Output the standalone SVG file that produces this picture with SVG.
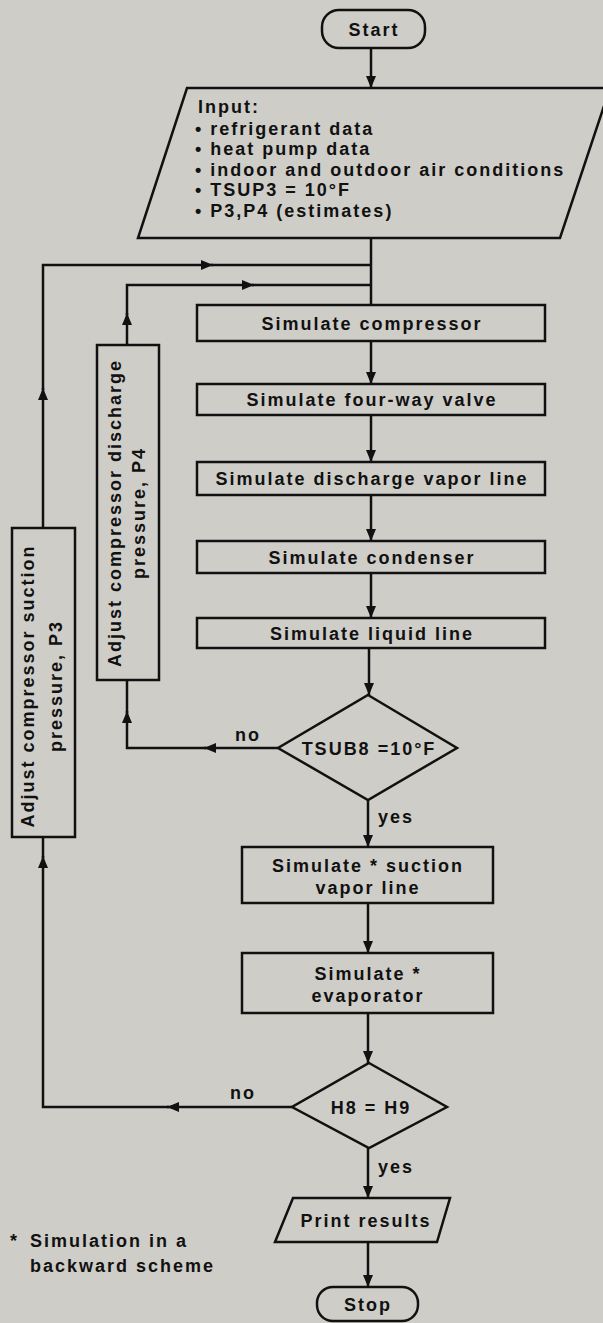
<svg xmlns="http://www.w3.org/2000/svg" width="603" height="1323" viewBox="0 0 603 1323">
<style>
.bg{fill:#cfcdc8}
.shape{fill:#cfcdc8;stroke:#111;stroke-width:2.5;stroke-linejoin:miter}
.ln{fill:none;stroke:#111;stroke-width:2.5}
.arr{fill:none;stroke:#111;stroke-width:2.5;marker-end:url(#ah)}
text{font-family:"Liberation Sans",Arial,Helvetica,sans-serif;font-weight:bold;font-size:18px;letter-spacing:2px;fill:#111}
.c{text-anchor:middle}
</style>
<defs>
<marker id="ah" viewBox="0 0 12 10" refX="12" refY="5" markerWidth="12" markerHeight="10" markerUnits="userSpaceOnUse" orient="auto">
<path d="M0,0 L12,5 L0,10 z" fill="#111"/>
</marker>
</defs>
<rect class="bg" x="0" y="0" width="603" height="1323"/>

<g id="connectors">
<path class="arr" d="M371,48 V88"/>
<path class="ln" d="M371,238 V305"/>
<path class="arr" d="M43,528 V388"/>
<path class="arr" d="M43,390 V265 H213"/>
<path class="ln" d="M211,265 H371"/>
<path class="arr" d="M127,345 V313"/>
<path class="arr" d="M127,315 V285 H254"/>
<path class="ln" d="M252,285 H371"/>
<path class="arr" d="M371,341 V384"/>
<path class="arr" d="M371,415 V462"/>
<path class="arr" d="M371,495 V541"/>
<path class="arr" d="M371,573 V618"/>
<path class="arr" d="M369,648 V695"/>
<path class="arr" d="M278,748 H204"/>
<path class="arr" d="M206,748 H127 V711"/>
<path class="ln" d="M127,713 V680"/>
<path class="arr" d="M368,800 V847"/>
<path class="arr" d="M368,903 V953"/>
<path class="arr" d="M368,1013 V1063"/>
<path class="arr" d="M292,1107 H167"/>
<path class="arr" d="M169,1107 H43 V856"/>
<path class="ln" d="M43,858 V837"/>
<path class="arr" d="M368,1148 V1198"/>
<path class="arr" d="M368,1242 V1287"/>
</g>

<g id="start">
<rect class="shape" x="322" y="10" width="103" height="38" rx="17" ry="17"/>
<text class="c" x="374" y="36">Start</text>
</g>

<g id="input">
<polygon class="shape" points="187,88 610,88 560,238 138,238"/>
<text x="198" y="113">Input:</text>
<text x="195" y="135">• refrigerant data</text>
<text x="195" y="155">• heat pump data</text>
<text x="195" y="176">• indoor and outdoor air conditions</text>
<text x="195" y="196">• TSUP3 = 10°F</text>
<text x="195" y="217">• P3,P4 (estimates)</text>
</g>

<g id="compressor">
<rect class="shape" x="197" y="305" width="348" height="36"/>
<text class="c" x="372" y="330">Simulate compressor</text>
</g>
<g id="fourway">
<rect class="shape" x="197" y="384" width="348" height="31"/>
<text class="c" x="372" y="406">Simulate four-way valve</text>
</g>
<g id="discharge">
<rect class="shape" x="197" y="462" width="348" height="33"/>
<text class="c" x="372" y="485">Simulate discharge vapor line</text>
</g>
<g id="condenser">
<rect class="shape" x="197" y="541" width="348" height="32"/>
<text class="c" x="372" y="564">Simulate condenser</text>
</g>
<g id="liquid">
<rect class="shape" x="197" y="618" width="348" height="30"/>
<text class="c" x="372" y="640">Simulate liquid line</text>
</g>

<g id="tsub8">
<polygon class="shape" points="368,695 457,748 368,800 278,748"/>
<text class="c" x="369" y="755">TSUB8 =10°F</text>
<text x="235" y="741">no</text>
<text x="378" y="823">yes</text>
</g>

<g id="adjustP4">
<rect class="shape" x="97" y="345" width="62" height="335"/>
<text class="c" transform="translate(121,513) rotate(-90)">Adjust compressor discharge</text>
<text class="c" transform="translate(145,513) rotate(-90)">pressure, P4</text>
</g>

<g id="adjustP3">
<rect class="shape" x="12" y="528" width="63" height="309"/>
<text class="c" transform="translate(34,686) rotate(-90)">Adjust compressor suction</text>
<text class="c" transform="translate(62,686) rotate(-90)">pressure, P3</text>
</g>

<g id="suction">
<rect class="shape" x="242" y="847" width="251" height="56"/>
<text class="c" x="368" y="872">Simulate * suction</text>
<text class="c" x="368" y="894">vapor line</text>
</g>
<g id="evaporator">
<rect class="shape" x="242" y="953" width="251" height="60"/>
<text class="c" x="368" y="980">Simulate *</text>
<text class="c" x="368" y="1002">evaporator</text>
</g>

<g id="h8h9">
<polygon class="shape" points="369,1063 447,1107 369,1148 292,1107"/>
<text class="c" x="371" y="1114">H8 = H9</text>
<text x="230" y="1099">no</text>
<text x="378" y="1173">yes</text>
</g>

<g id="print">
<polygon class="shape" points="293,1198 450,1198 437,1242 275,1242"/>
<text class="c" x="366" y="1227">Print results</text>
</g>

<g id="stop">
<rect class="shape" x="317" y="1287" width="101" height="34" rx="16" ry="16"/>
<text class="c" x="368" y="1311">Stop</text>
</g>

<g id="footnote">
<text x="10" y="1247">*</text>
<text x="30" y="1247">Simulation in a</text>
<text x="30" y="1272">backward scheme</text>
</g>
</svg>
